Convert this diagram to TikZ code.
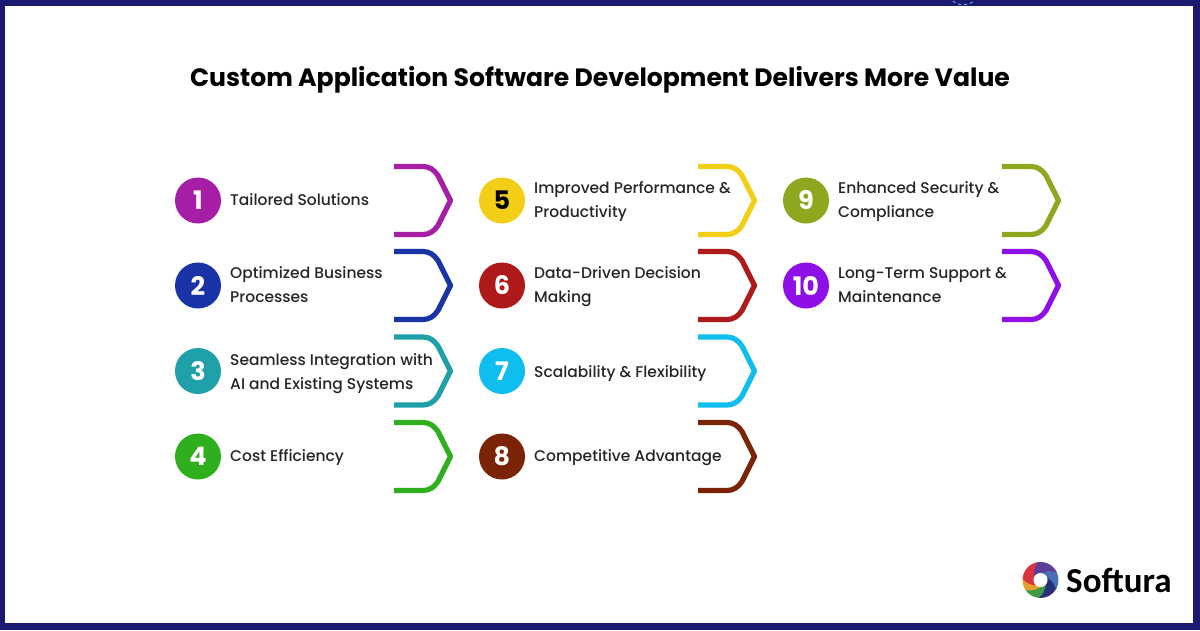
\documentclass[tikz,border=0pt]{standalone}
\usepackage{fontspec}
\setmainfont{Poppins Medium}[BoldFont=Poppins Bold]
\newfontfamily\logofont{Carlito}[BoldFont=Carlito Bold]
\definecolor{frame}{HTML}{1B1A6E}
\definecolor{cA}{HTML}{A61EA6}
\definecolor{cB}{HTML}{1A34A8}
\definecolor{cC}{HTML}{1F9FA8}
\definecolor{cD}{HTML}{2FAF1E}
\definecolor{cE}{HTML}{F2CE16}
\definecolor{cF}{HTML}{AE1A1A}
\definecolor{cG}{HTML}{0FBDEE}
\definecolor{cH}{HTML}{7A2305}
\definecolor{cI}{HTML}{8DA81E}
\definecolor{cJ}{HTML}{8E0FE8}
\definecolor{lgRed}{HTML}{D8343F}
\definecolor{lgPurple}{HTML}{5B3E96}
\definecolor{lgBlue}{HTML}{4A6FB5}
\definecolor{lgNavy}{HTML}{2A2F7A}
\definecolor{lgGreen}{HTML}{3F9A45}
\definecolor{lgOrange}{HTML}{E6A030}
\tikzset{
  badge/.style={circle,minimum size=46pt,inner sep=0pt,text=white,font=\bfseries\fontsize{25.5}{25.5}\selectfont},
  itemlabel/.style={anchor=west,align=left,inner sep=0pt,text=black!85,font=\fontsize{15.5}{24}\selectfont},
  bracket/.style={line width=5.2pt,line join=round},
}
\newcommand{\rowitem}[8]{% id, x, y, colour, numcolour, number, text, label y shift
  \node[badge,fill=#4,text=#5] (b#1) at (#2,#3) {#6};
  \node[itemlabel] (t#1) at (#2+32,#3+#8) {#7};
  \draw[bracket,draw=#4] (#2+196,#3-34) -- (#2+225,#3-34) .. controls (#2+231,#3-34) and (#2+236,#3-31) .. (#2+240,#3-25) -- (#2+252.5,#3) -- (#2+240,#3+25) .. controls (#2+236,#3+31) and (#2+231,#3+34) .. (#2+225,#3+34) -- (#2+196,#3+34);
}
\newcommand{\blade}[3]{% start angle, sweep, colour
  \fill[#3] (#1:18) arc[start angle=#1,delta angle=#2,radius=18] .. controls (#1+#2+20:14) and (#1+#2+45:9) .. (#1+#2+60:6) -- (#1+60:6) .. controls (#1+45:9) and (#1+20:14) .. (#1:18) -- cycle;
}
\begin{document}
\begin{tikzpicture}[x=1pt,y=-1pt]
\useasboundingbox (0,0) rectangle (1200,630);
\fill[frame] (0,0) rectangle (1200,630);
\fill[white] (5,6) rectangle (1193,623);
\draw[blue!60!cyan!60,line width=1pt,dashed] (953,1) .. controls (958,6) and (968,6) .. (974,1);
\node[font=\bfseries\fontsize{25.1}{25}\selectfont,text=black] (title) at (600,80) {Custom Application Software Development Delivers More Value};
\rowitem{1}{198}{200.5}{cA}{white}{1}{\strut Tailored Solutions}{0}
\rowitem{2}{198}{285.5}{cB}{white}{2}{\strut Optimized Business\\\strut Processes}{0}
\rowitem{3}{198}{371}{cC}{white}{3}{\strut Seamless Integration with\\\strut AI and Existing Systems}{1.5}
\rowitem{4}{198}{456.5}{cD}{white}{4}{\strut Cost Efficiency}{0}
\rowitem{5}{502}{200.5}{cE}{black}{5}{\strut Improved Performance \&\\\strut Productivity}{0}
\rowitem{6}{502}{285.5}{cF}{white}{6}{\strut Data-Driven Decision\\\strut Making}{0}
\rowitem{7}{502}{371}{cG}{white}{7}{\strut Scalability \& Flexibility}{1.5}
\rowitem{8}{502}{456.5}{cH}{white}{8}{\strut Competitive Advantage}{0}
\rowitem{9}{806}{200.5}{cI}{white}{9}{\strut Enhanced Security \&\\\strut Compliance}{0}
\rowitem{10}{806}{285.5}{cJ}{white}{10}{\strut Long-Term Support \&\\\strut Maintenance}{0}
\begin{scope}[shift={(1040.5,580)},x=1pt,y=1pt]
\blade{175}{42}{lgOrange}
\blade{215}{52}{lgGreen}
\blade{265}{67}{lgNavy}
\blade{330}{57}{lgBlue}
\blade{25}{77}{lgPurple}
\blade{100}{77}{lgRed}
\fill[white] (0,0) circle[radius=7];
\end{scope}
\node[font=\logofont\bfseries\fontsize{35}{35}\selectfont,anchor=west,inner sep=0pt,text=black] (logo) at (1066,580) {Softura};
\end{tikzpicture}
\end{document}
